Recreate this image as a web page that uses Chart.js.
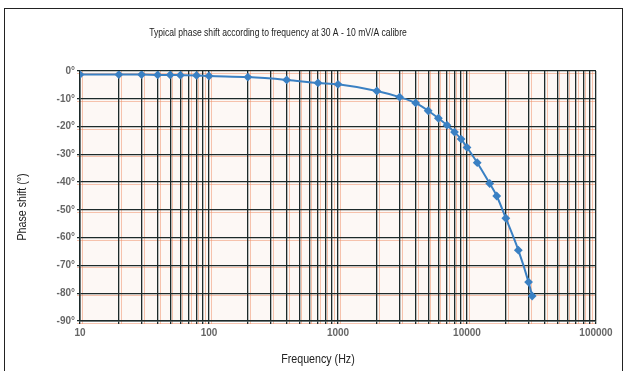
<!DOCTYPE html>
<html>
<head>
<meta charset="utf-8">
<script src="https://cdn.jsdelivr.net/npm/chart.js@4/dist/chart.umd.min.js"></script>
<style>
  html, body { margin: 0; padding: 0; background: #fff; }
  #wrap { position: relative; width: 626px; height: 371px; }
  #frame { position: absolute; left: 4px; top: 8px; width: 617px; height: 380px;
           border: 1px solid #222; border-bottom: none; }
  canvas { position: absolute; left: 0; top: 0; }
</style>
</head>
<body>
<div id="wrap">
  <div id="frame"></div>
  <canvas id="phaseChart" width="626" height="371"></canvas>
</div>
<script>
// frequency (Hz) and phase shift (degrees)
var freqs = [10, 20, 30, 40, 50, 60, 80, 100, 200, 400, 700, 1000, 2000, 3000, 4000, 5000,
             6000, 7000, 8000, 9000, 10000, 12000, 15000, 17000, 20000, 25000, 30000, 32000];
var phase = [-1.3, -1.3, -1.3, -1.4, -1.4, -1.5, -1.6, -1.8, -2.2, -3.2, -4.3, -4.8, -7.2, -9.4, -11.5, -14.3,
             -17, -19.5, -22, -24.5, -27.5, -33, -40.5, -45, -53, -64.5, -76, -81];
var yTicks = [0, -10, -20, -30, -40, -50, -60, -70, -80, -90];
var decadeLabels = [10, 100, 1000, 10000, 100000];
var minorSteps = [1, 2, 3, 4, 5, 6, 7, 8, 9];

var fontFam = "'Liberation Sans', Arial, sans-serif";

var points = freqs.map(function (f, i) { return { x: f, y: phase[i] }; });

// x grid: 1..9 in every decade, plus the last decade line
var xTicks = [];
decadeLabels.slice(0, -1).forEach(function (d) {
  minorSteps.forEach(function (m) { xTicks.push(d * m); });
});
xTicks.push(decadeLabels[decadeLabels.length - 1]);

function narrowText(ctx, text, x, y, squeeze) {
  ctx.save();
  ctx.translate(x, y);
  ctx.scale(squeeze, 1);
  ctx.fillText(text, 0, 0);
  ctx.restore();
}

// faint orange shadow lines beside the grid, like the scanned print
var offsetGrid = {
  id: 'offsetGrid',
  beforeDraw: function (chart) {
    var ctx = chart.ctx, a = chart.chartArea;
    var xs = chart.scales.x, ys = chart.scales.y;
    ctx.save();
    ctx.fillStyle = '#fdf8f5';
    ctx.fillRect(a.left, a.top, a.right - a.left, a.bottom - a.top);
    ctx.strokeStyle = 'rgba(240,140,100,0.5)';
    ctx.lineWidth = 1;
    xTicks.forEach(function (v) {
      var px = Math.round(xs.getPixelForValue(v)) + 2.5;
      if (px > a.right) return;
      ctx.beginPath(); ctx.moveTo(px, a.top); ctx.lineTo(px, a.bottom + 3); ctx.stroke();
    });
    yTicks.forEach(function (v) {
      var py = Math.round(ys.getPixelForValue(v)) + 2.5;
      ctx.beginPath(); ctx.moveTo(a.left - 3, py); ctx.lineTo(a.right, py); ctx.stroke();
    });
    ctx.restore();
  },
  afterDraw: function (chart) {
    var ctx = chart.ctx;
    ctx.save();
    ctx.fillStyle = '#222';
    ctx.textAlign = 'center';
    ctx.textBaseline = 'middle';
    ctx.font = '11px ' + fontFam;
    narrowText(ctx, 'Typical phase shift according to frequency at 30 A - 10 mV/A calibre', 278, 33, 0.78);
    ctx.font = '13px ' + fontFam;
    narrowText(ctx, 'Frequency (Hz)', 318, 359, 0.82);
    ctx.translate(22, 207);
    ctx.rotate(-Math.PI / 2);
    narrowText(ctx, 'Phase shift (°)', 0, 0, 0.82);
    ctx.restore();
  }
};

new Chart('phaseChart', {
  type: 'line',
  data: {
    datasets: [{
      data: points,
      borderColor: '#3a80c3',
      backgroundColor: '#3a80c3',
      borderWidth: 2,
      pointStyle: 'rectRot',
      pointRadius: 3,
      fill: false,
      cubicInterpolationMode: 'monotone'
    }]
  },
  options: {
    responsive: false,
    animation: false,
    events: [],
    layout: { padding: { top: 71, right: 30, bottom: 0, left: 0 } },
    plugins: {
      legend: { display: false },
      tooltip: { enabled: false }
    },
    scales: {
      x: {
        type: 'logarithmic',
        min: 10,
        max: 100000,
        afterFit: function (s) { s.height = 50; },
        afterBuildTicks: function (s) { s.ticks = xTicks.map(function (v) { return { value: v }; }); },
        grid: { color: '#1d2a2a', lineWidth: 1.3, tickLength: 3 },
        border: { color: '#1d2a2a', width: 1.5 },
        ticks: {
          autoSkip: false,
          maxRotation: 0,
          padding: 3,
          color: '#666',
          font: { family: fontFam, size: 10, weight: 'bold' },
          callback: function (v) { return decadeLabels.indexOf(v) >= 0 ? String(v) : ''; }
        }
      },
      y: {
        min: -90,
        max: 0,
        afterFit: function (s) { s.width = 80; },
        afterBuildTicks: function (s) { s.ticks = yTicks.map(function (v) { return { value: v }; }); },
        grid: { color: '#1d2a2a', lineWidth: 1.3, tickLength: 3 },
        border: { color: '#1d2a2a', width: 1.5 },
        ticks: {
          padding: 2,
          color: '#666',
          font: { family: fontFam, size: 10, weight: 'bold' },
          callback: function (v) { return v + '°'; }
        }
      }
    }
  },
  plugins: [offsetGrid]
});
</script>
</body>
</html>
